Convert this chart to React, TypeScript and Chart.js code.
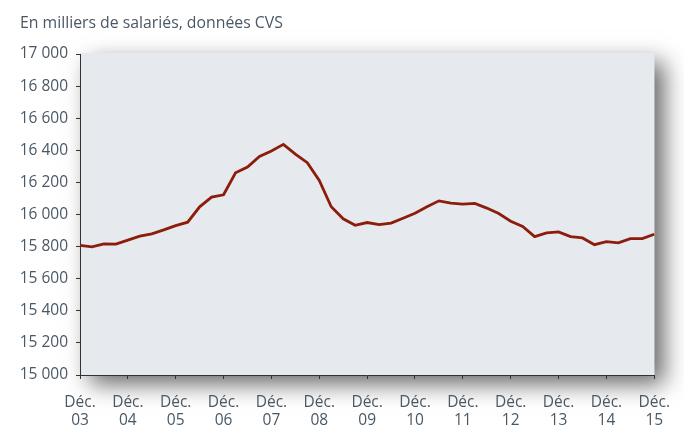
import React, { useEffect, useRef } from "react";
import { Chart, registerables } from "chart.js";

Chart.register(...registerables);

const TITLE = "En milliers de salariés, données CVS";
const YEARS = ["03", "04", "05", "06", "07", "08", "09", "10", "11", "12", "13", "14", "15"];
// Quarterly points from Déc. 03 to Déc. 15 (49 quarters)
const QUARTERS: string[] = [];
for (let y = 0; y < YEARS.length; y++) {
  if (y === 0) { QUARTERS.push("Déc. " + YEARS[0]); continue; }
  QUARTERS.push("Mar. " + YEARS[y], "Juin " + YEARS[y], "Sept. " + YEARS[y], "Déc. " + YEARS[y]);
}
const VALUES = [
  15808, 15798, 15817, 15815, 15840, 15865, 15879, 15904, 15931, 15952,
  16048, 16108, 16123, 16260, 16296, 16362, 16396, 16437, 16376, 16323,
  16212, 16048, 15973, 15933, 15950, 15937, 15946, 15977, 16008, 16048,
  16085, 16071, 16065, 16069, 16040, 16006, 15958, 15925, 15862, 15885,
  15892, 15862, 15854, 15812, 15831, 15823, 15850, 15850, 15877,
];
const Y_MIN = 15000;
const Y_MAX = 17000;
const Y_STEP = 200;

const TEXT = "#4a5864";
const FONT = "'Open Sans', 'Noto Sans', sans-serif";

const fmt = (v: number) => {
  const s = String(Math.round(v));
  return s.length > 3 ? s.slice(0, s.length - 3) + " " + s.slice(-3) : s;
};

const panelPlugin = {
  id: "panel",
  beforeDraw(chart: any) {
    const { ctx, chartArea } = chart;
    const { left, top, right, bottom } = chartArea;
    ctx.save();
    ctx.shadowColor = "rgba(0,0,0,0.6)";
    ctx.shadowBlur = 22;
    ctx.shadowOffsetX = 10;
    ctx.shadowOffsetY = 9;
    ctx.fillStyle = "#e6e9ee";
    ctx.fillRect(left, top - 1, right - left, bottom - top + 1);
    ctx.restore();
    ctx.save();
    ctx.fillStyle = "#e6e9ee";
    ctx.fillRect(left, top - 1, right - left, bottom - top + 1);
    ctx.fillStyle = TEXT;
    ctx.font = "15.8px " + FONT;
    ctx.textBaseline = "alphabetic";
    ctx.textAlign = "left";
    ctx.fillText(TITLE, 20, 28);
    ctx.restore();
  },
};

export default function App() {
  const ref = useRef<HTMLCanvasElement | null>(null);
  useEffect(() => {
    document.body.style.margin = "0";
    if (!ref.current) return;
    const chart = new Chart(ref.current, {
      type: "line",
      data: {
        labels: QUARTERS,
        datasets: [
          {
            data: VALUES,
            borderColor: "#8c1d0b",
            borderWidth: 2.8,
            pointRadius: 0,
            tension: 0,
            fill: false,
          },
        ],
      },
      options: {
        responsive: false,
        animation: false,
        devicePixelRatio: 1,
        layout: { padding: { left: 0, right: 28, top: 54, bottom: 0 } },
        plugins: { legend: { display: false }, tooltip: { enabled: false }, title: { display: false } },
        scales: {
          x: {
            type: "category",
            offset: false,
            grid: { drawOnChartArea: false, drawTicks: true, tickLength: 4, tickColor: "#333", tickWidth: 1 },
            border: { display: true, color: "#333", width: 1 },
            afterFit: (s: any) => { s.height = 51; },
            ticks: {
              autoSkip: false,
              maxRotation: 0,
              padding: 14,
              color: TEXT,
              font: { family: FONT, size: 15.5, lineHeight: 1.2 },
              callback: (_v: any, i: number) => (i % 4 === 0 ? ["Déc.", YEARS[i / 4]] : null),
            },
          },
          y: {
            min: Y_MIN,
            max: Y_MAX,
            grid: { drawOnChartArea: false, drawTicks: true, tickLength: 4, tickColor: "#333", tickWidth: 1 },
            border: { display: true, color: "#333", width: 1 },
            afterFit: (s: any) => { s.width = 80; },
            ticks: {
              stepSize: Y_STEP,
              padding: 8,
              color: TEXT,
              font: { family: FONT, size: 15.5 },
              callback: (v: any) => fmt(Number(v)),
            },
          },
        },
      },
      plugins: [panelPlugin],
    });
    return () => chart.destroy();
  }, []);
  return (
    <div style={{ width: 684, height: 426 }}>
      <canvas ref={ref} width={684} height={426} style={{ display: "block" }} />
    </div>
  );
}
